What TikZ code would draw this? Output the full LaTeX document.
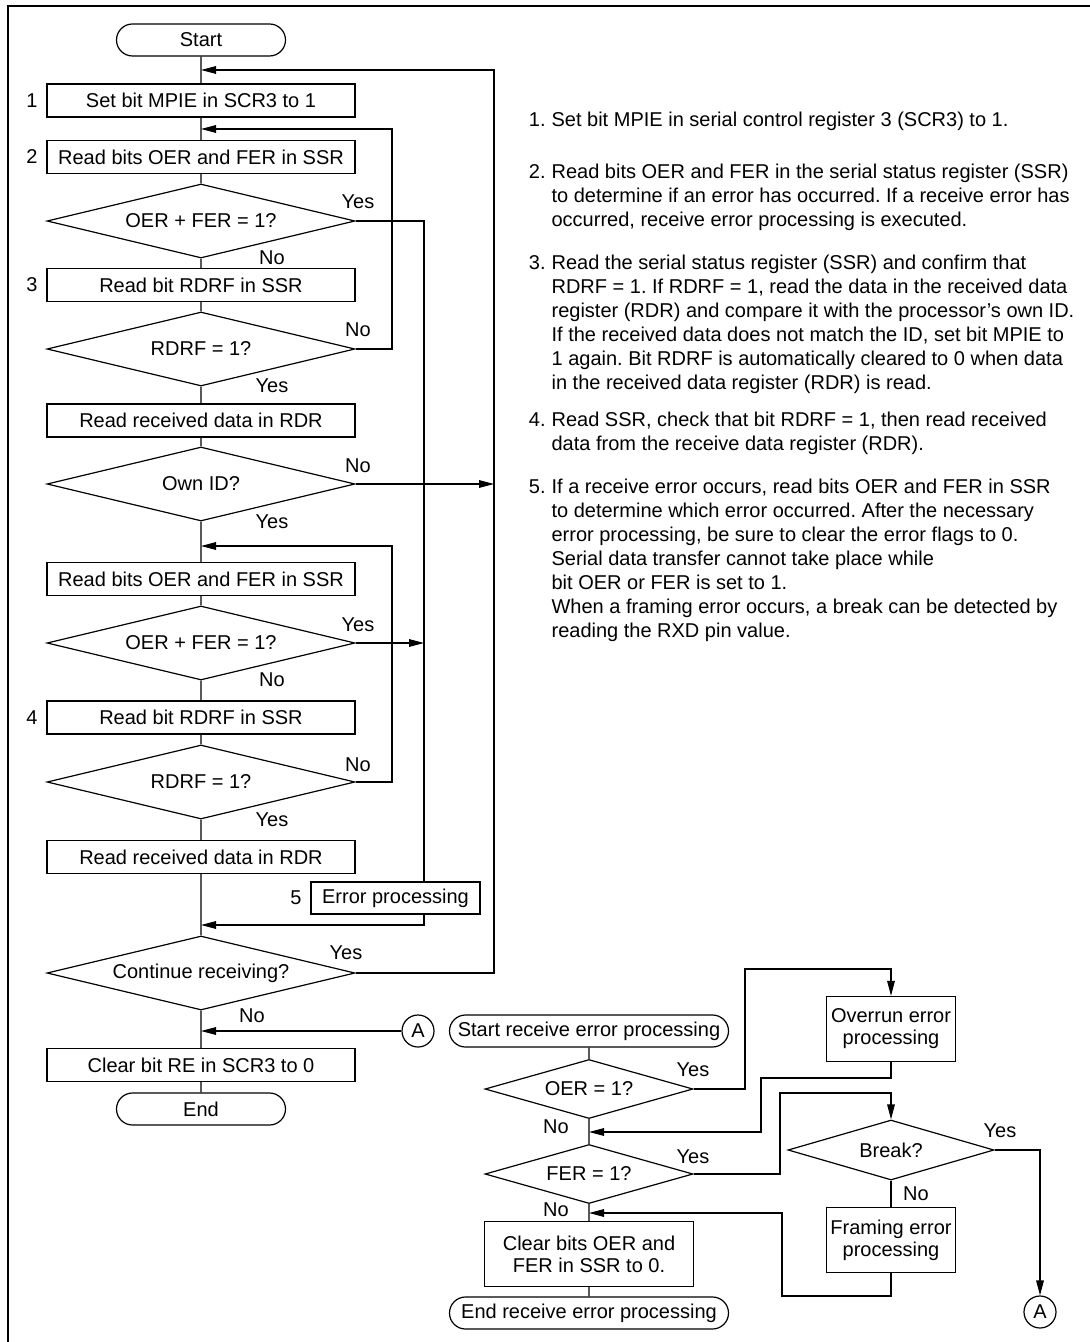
\documentclass[tikz,border=0pt]{standalone}
\usepackage{fontspec}
\setmainfont{Liberation Sans}
\usetikzlibrary{shapes.geometric,shapes.misc,arrows.meta,positioning,calc}

\tikzset{
  term/.style={rounded rectangle, draw, minimum width=84.5pt, minimum height=16pt, inner sep=0pt},
  box/.style={rectangle, draw, minimum width=154pt, minimum height=16.5pt, inner sep=0pt},
  dec/.style={diamond, draw, aspect=4.2, minimum width=154pt, minimum height=37pt, inner sep=0pt},
  sbox/.style={rectangle, draw, align=center, minimum width=64.5pt, minimum height=32.5pt,
    inner sep=0pt, font=\fontsize{10}{11}\selectfont},
  link/.style={circle, draw, minimum size=16pt, inner sep=0pt},
  lbl/.style={inner sep=0pt},
  note/.style={anchor=base west, inner sep=0pt}
}

% numbered notes on the right
\newcommand{\stepnote}[4]{%
  \node[note] (#1) at (551,#2) {\parbox[t]{285pt}{\fontsize{10}{12}\selectfont
    \frenchspacing\raggedright\leavevmode\llap{#3.\hspace{3pt}}#4}};}

\begin{document}
\begin{tikzpicture}[x=0.5pt,y=-0.5pt, line width=0.6pt,
    >={Triangle[length=7.5pt,width=3.8pt]}]
  \useasboundingbox (0,0) rectangle (1090,1342);
  \draw[line width=1pt] (1090,6) -- (8,6) -- (8,1342);

  % main flow
  \node[term] (start) at (201,40) {Start};
  \node[box] (b1) at (201,100.5) {Set bit MPIE in SCR3 to 1};
  \node[box] (b2) at (201,157) {Read bits OER and FER in SSR};
  \node[dec] (d1) at (201,221) {OER + FER = 1?};
  \node[box] (b3) at (201,285) {Read bit RDRF in SSR};
  \node[dec] (d2) at (201,349) {RDRF = 1?};
  \node[box] (b4) at (201,420.5) {Read received data in RDR};
  \node[dec] (d3) at (201,484) {Own ID?};
  \node[box] (b5) at (201,579) {Read bits OER and FER in SSR};
  \node[dec] (d4) at (201,643) {OER + FER = 1?};
  \node[box] (b6) at (201,717.5) {Read bit RDRF in SSR};
  \node[dec] (d5) at (201,782) {RDRF = 1?};
  \node[box] (b7) at (201,857) {Read received data in RDR};
  \node[box, minimum width=84.5pt, minimum height=16pt] (err) at (395.5,898) {Error processing};
  \node[dec] (d6) at (201,973) {Continue receiving?};
  \node[box] (b8) at (201,1065) {Clear bit RE in SCR3 to 0};
  \node[term] (stop) at (201,1109) {End};
  \node[link] (linkA) at (418,1031) {A};

  \node[lbl] (s1) at (32,100.5) {1};
  \node[lbl] (s2) at (32,157) {2};
  \node[lbl] (s3) at (32,285) {3};
  \node[lbl] (s4) at (32,717.5) {4};
  \node[lbl] (s5) at (296,898) {5};

  \coordinate (m1) at (201,70);
  \coordinate (m2) at (201,129);
  \coordinate (m3) at (201,546);
  \coordinate (m4) at (201,925);
  \coordinate (m5) at (201,1031);
  \coordinate (r1) at (494,70);
  \coordinate (r2) at (392,129);
  \coordinate (r3) at (392,546);
  \coordinate (r4) at (424,925);

  \draw (start) -- (b1) -- (b2) -- (d1) -- (b3) -- (d2) -- (b4) -- (d3) -- (b5)
    -- (d4) -- (b6) -- (d5) -- (b7) -- (d6) -- (b8) -- (stop);
  \draw[->] (d6.east) -| (r1) -- (m1);
  \draw[->] (d2.east) -| (r2) -- (m2);
  \draw[->] (d5.east) -| (r3) -- (m3);
  \draw[->] (d3.east) -- (d3.east -| r1);
  \draw (d1.east) -| (err.north -| r4);
  \draw[->] (d4.east) -- (d4.east -| r4);
  \draw[->] (err.south -| r4) -- (r4) -- (m4);
  \draw[->] (linkA) -- (m5);

  \node[lbl] (y1) at (358,202) {Yes};
  \node[lbl] (n1) at (272,258) {No};
  \node[lbl] (n2) at (358,330) {No};
  \node[lbl] (y2) at (272,386) {Yes};
  \node[lbl] (n3) at (358,466) {No};
  \node[lbl] (y3) at (272,522) {Yes};
  \node[lbl] (y4) at (358,625) {Yes};
  \node[lbl] (n4) at (272,680) {No};
  \node[lbl] (n5) at (358,765) {No};
  \node[lbl] (y5) at (272,820) {Yes};
  \node[lbl] (y6) at (346,953) {Yes};
  \node[lbl] (n6) at (252,1016) {No};

  % receive error processing
  \node[term, minimum width=139.5pt] (es) at (589,1031) {Start receive error processing};
  \node[dec, minimum width=104pt, minimum height=29.5pt] (doer) at (589,1089) {OER = 1?};
  \node[dec, minimum width=104pt, minimum height=29.5pt] (dfer) at (589,1174) {FER = 1?};
  \node[sbox, minimum width=104.5pt] (clr) at (589,1254) {Clear bits OER and\\FER in SSR to 0.};
  \node[term, minimum width=139.5pt] (ee) at (589,1313) {End receive error processing};
  \node[sbox] (ovr) at (891,1029) {Overrun error\\processing};
  \node[dec, minimum width=103pt, minimum height=30pt] (brk) at (891,1150) {Break?};
  \node[sbox] (frm) at (891,1240) {Framing error\\processing};
  \node[link] (linkB) at (1040,1312) {A};

  \coordinate (ya) at (745,969);
  \coordinate (yb) at (761,1078);
  \coordinate (mb) at (589,1132);
  \coordinate (yc) at (780,1093);
  \coordinate (yd) at (782,1296);
  \coordinate (me) at (589,1213);

  \draw (es) -- (doer) -- (dfer) -- (clr) -- (ee);
  \draw[->] (doer.east) -| (ya) -| (ovr.north);
  \draw[->] (ovr.south) |- (yb) |- (mb);
  \draw[->] (dfer.east) -| (yc) -| (brk.north);
  \draw (brk) -- (frm);
  \draw[->] (frm.south) |- (yd) |- (me);
  \draw[->] (brk.east) -| (linkB.north);

  \node[lbl] (y7) at (693,1070) {Yes};
  \node[lbl] (n7) at (556,1127) {No};
  \node[lbl] (y8) at (693,1157) {Yes};
  \node[lbl] (n8) at (556,1210) {No};
  \node[lbl] (y9) at (1000,1131) {Yes};
  \node[lbl] (n9) at (916,1194) {No};

  \stepnote{t1}{127}{1}{Set bit MPIE in serial control register 3 (SCR3) to 1.}
  \stepnote{t2}{179}{2}{Read bits OER and FER in the serial status register (SSR)\\
    to determine if an error has occurred. If a receive error has\\
    occurred, receive error processing is executed.}
  \stepnote{t3}{270}{3}{Read the serial status register (SSR) and confirm that\\
    RDRF = 1. If RDRF = 1, read the data in the received data\\
    register (RDR) and compare it with the processor's own ID.\\
    If the received data does not match the ID, set bit MPIE to\\
    1 again. Bit RDRF is automatically cleared to 0 when data\\
    in the received data register (RDR) is read.}
  \stepnote{t4}{426}{4}{Read SSR, check that bit RDRF = 1, then read received\\
    data from the receive data register (RDR).}
  \stepnote{t5}{493}{5}{If a receive error occurs, read bits OER and FER in SSR\\
    to determine which error occurred. After the necessary\\
    error processing, be sure to clear the error flags to 0.\\
    Serial data transfer cannot take place while\\
    bit OER or FER is set to 1.\\
    When a framing error occurs, a break can be detected by\\
    reading the RXD pin value.}
\end{tikzpicture}
\end{document}
